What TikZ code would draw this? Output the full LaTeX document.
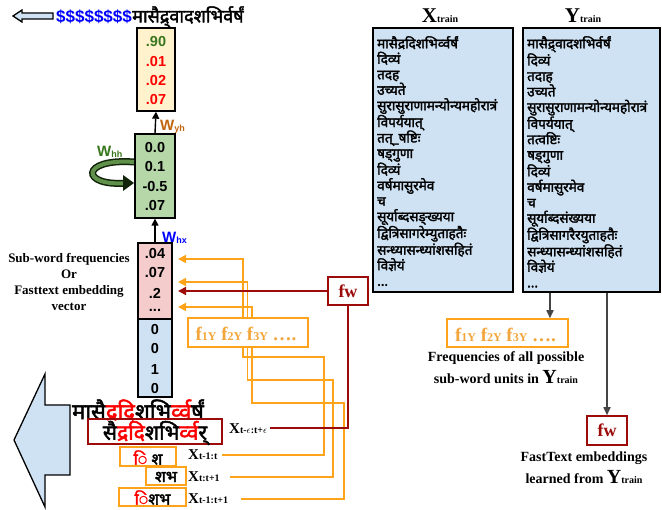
\documentclass[tikz,border=0pt]{standalone}
\usepackage{fontspec}
\setmainfont{Liberation Serif}
\setsansfont{Liberation Sans}
\newfontfamily\dev[Script=Devanagari,FakeBold=2.2]{Noto Sans}
\usetikzlibrary{arrows.meta}
\definecolor{orl}{HTML}{FFA31A}
\definecolor{ort}{HTML}{F2A53A}
\definecolor{dred}{HTML}{9C0A0A}
\definecolor{gry}{HTML}{454545}
\definecolor{lblue}{HTML}{CFE2F3}
\definecolor{lgreen}{HTML}{B6D7A8}
\definecolor{lyel}{HTML}{FFF2CC}
\definecolor{lpink}{HTML}{F4CCCC}
\definecolor{dgreen}{HTML}{38761D}
\definecolor{brn}{HTML}{C0650E}
\newcommand\sbs[1]{{\fontsize{9}{9}\selectfont #1}}
\newcommand\tsub[1]{{\fontsize{10}{10}\selectfont #1}}
\newcommand\fsub[1]{{\fontsize{12}{12}\selectfont #1}}
\begin{document}
\begin{tikzpicture}[x=1pt,y=-1pt,
  vec/.style={draw=black, line width=1.4pt, inner sep=0pt},
  num/.style={font=\sffamily\bfseries\fontsize{14.5}{14.5}\selectfont, inner sep=0pt},
  oline/.style={draw=orl, line width=1.6pt},
  oarr/.style={oline, -{Triangle[length=8pt,width=8pt]}},
  rline/.style={draw=dred, line width=1.6pt},
  rarr/.style={rline, -{Triangle[length=8pt,width=8pt]}},
  garr/.style={draw=gry, line width=1.6pt, -{Triangle[length=8pt,width=7pt]}},
  barr/.style={draw=black, line width=1.4pt, -{Triangle[length=7pt,width=7pt]}},
  obox/.style={draw=orl, line width=1.5pt, inner sep=0pt},
  rbox/.style={draw=dred, line width=1.5pt, inner sep=0pt},
  lbl/.style={font=\bfseries\fontsize{13}{16}\selectfont, align=center, inner sep=0pt},
  xl/.style={font=\bfseries\fontsize{15}{15}\selectfont, inner sep=0pt, anchor=west},
  dv/.style={font=\dev, inner sep=0pt},
  ftx/.style={font=\bfseries\fontsize{19}{19}\selectfont, text=ort, inner sep=0pt},
  wl/.style={font=\sffamily\bfseries\fontsize{15}{15}\selectfont, inner sep=0pt},
  listbox/.style={draw=black, line width=1.4pt, fill=lblue, inner sep=0pt},
  listtxt/.style={dv, font=\dev\fontsize{13.5}{15.5}\selectfont, align=left, anchor=north west}
]
\useasboundingbox (0,0) rectangle (662,510);

% top small arrow and output text
\draw[line width=1.3pt, fill=lblue] (13,16) -- (22,10) -- (22,13) -- (53,13) -- (53,19) -- (22,19) -- (22,22) -- cycle;
\node[font=\sffamily\bfseries\fontsize{17}{17}\selectfont, text=blue, inner sep=0pt, anchor=west] (dollars) at (56,17) {\$\$\$\$\$\$\$\$};
\node[dv, font=\dev\fontsize{18}{18}\selectfont, anchor=west] (outw) at (dollars.east) {मासैद्र्वादशभिर्वर्षं};

% output vector
\node[vec, fill=lyel, minimum width=38, minimum height=83] (out) at (156,69.5) {};
\node[num, text=dgreen] (o1) at (156,42) {.90};
\node[num, text=red] (o2) at (156,62) {.01};
\node[num, text=red] (o3) at (156,81) {.02};
\node[num, text=red] (o4) at (156,100) {.07};

% hidden vector
\node[vec, fill=lgreen, minimum width=40, minimum height=84] (hid) at (155,176) {};
\node[num] (h1) at (155,148) {0.0};
\node[num] (h2) at (155,167) {0.1};
\node[num] (h3) at (155,187) {-0.5};
\node[num] (h4) at (155,206) {.07};

\draw[barr] (hid.north) -- (out.south);
\node[wl, text=brn, anchor=west] (wyh) at (160,127) {W\raisebox{-1pt}{\sbs{yh}}};

% recurrent arrow
\coordinate (rs) at (134,162);
\coordinate (re) at (134,183);
\draw[draw=black!70!dgreen, line width=7pt] (rs) .. controls (80,158) and (80,187) .. ([xshift=-7pt]re);
\draw[draw=dgreen!80!white, line width=4pt] (rs) .. controls (80,158) and (80,187) .. ([xshift=-7pt]re);
\fill[black!70!dgreen] ([xshift=-11pt,yshift=-8pt]re) -- (re) -- ([xshift=-11pt,yshift=8pt]re) -- cycle;
\node[wl, text=dgreen, anchor=west] (whh) at (97,152) {W\raisebox{-1pt}{\sbs{hh}}};

% input vector
\node[vec, fill=lpink, minimum width=34, minimum height=76] (pink) at (155,281) {};
\node[vec, fill=lblue, minimum width=34, minimum height=78] (blu) at (155,358) {};
\node[num] (p1) at (155,254) {.04};
\node[num] (p2) at (155,273) {.07};
\node[num] (p3) at (155,293) {.2};
\node[num] (p4) at (155,310) {...};
\node[num] (b1) at (155,330) {0};
\node[num] (b2) at (155,349) {0};
\node[num] (b3) at (155,370) {1};
\node[num] (b4) at (155,389) {0};

\draw[barr] (pink.north) -- (hid.south);
\node[wl, text=blue, anchor=west] (whx) at (162,238) {W\raisebox{-1pt}{\sbs{hx}}};

\node[lbl] (desc) at (69,282) {Sub-word frequencies\\Or\\Fasttext embedding\\vector};

% left orange f box and fw box
\node[obox, minimum width=120, minimum height=29] (fbox) at (248,332.5) {};
\node[ftx] (ftxt) at (246,334) {f\fsub{1Y} f\fsub{2Y} f\fsub{3Y} ….};
\node[rbox, minimum width=40, minimum height=28, font=\bfseries\fontsize{18}{18}\selectfont, text=dred] (fw) at (348,291) {fw};

\coordinate (ta) at (178,259);
\coordinate (tb) at (178,282);
\coordinate (tc) at (178,307);
\coordinate (td) at (178,291);
\coordinate (fa) at (243,318);
\coordinate (fb) at (247.5,318);
\coordinate (fc) at (252,318);
\draw[oarr] (fa) |- (ta);
\draw[oarr] (fb) |- (tb);
\draw[oarr] (fc) |- (tc);
\draw[rarr] (fw.west) -- (td);

% bottom-left texts
\draw[line width=1.3pt, fill=lblue] (14,440) -- (45,374) -- (45,405) -- (70,405) -- (70,475) -- (45,475) -- (45,507) -- cycle;
\node[dv, font=\dev\fontsize{22}{22}\selectfont, anchor=west] (w1) at (72,410) {मासै\textcolor{red}{द्रदि}शभि\textcolor{red}{र्व्व}र्षं};
\node[rbox, minimum width=134, minimum height=25] (w2box) at (155,431.5) {};
\node[dv, font=\dev\fontsize{21}{21}\selectfont] (w2) at (155,433) {सै\textcolor{red}{द्रदि}शभि\textcolor{red}{र्व्व}र्};
\node[obox, minimum width=56, minimum height=19] (s1box) at (148,456.5) {};
\node[dv, font=\dev\fontsize{16}{16}\selectfont] (s1) at (148,457.5) {\textcolor{red}{ि} श};
\node[obox, minimum width=40, minimum height=18] (s2box) at (166,476) {};
\node[dv, font=\dev\fontsize{16}{16}\selectfont] (s2) at (166,477) {शभ};
\node[obox, minimum width=67, minimum height=18] (s3box) at (152.5,497) {};
\node[dv, font=\dev\fontsize{16}{16}\selectfont] (s3) at (152.5,497.5) {\textcolor{red}{ि}शभ};

\node[xl] (xe) at (229,429) {X\tsub{t-$\epsilon$:t+$\epsilon$}};
\node[xl] (x1) at (188,455) {X\tsub{t-1:t}};
\node[xl] (x2) at (188,477) {X\tsub{t:t+1}};
\node[xl] (x3) at (188,499) {X\tsub{t-1:t+1}};

% lower orange routes
\coordinate (ga) at (243,347);
\coordinate (gb) at (247.5,347);
\coordinate (gc) at (252,347);
\coordinate (ea) at (222,455);
\coordinate (eb) at (230,477);
\coordinate (ec) at (241,499);
\draw[oline] (ga) -- (243,357) -- (324,357) -- (324,455) -- (ea);
\draw[oline] (gb) -- (247.5,380) -- (333,380) -- (333,477) -- (eb);
\draw[oline] (gc) -- (252,403) -- (344,403) -- (344,499) -- (ec);
\coordinate (er) at (270,428);
\draw[rline] (fw.south) |- (er);

% right side
\node[font=\bfseries\fontsize{21}{21}\selectfont, inner sep=0pt] (xt) at (440,16) {X\tsub{train}};
\node[font=\bfseries\fontsize{21}{21}\selectfont, inner sep=0pt] (yt) at (583,16) {Y\tsub{train}};
\node[listbox, minimum width=140, minimum height=264] (xbox) at (443,160) {};
\node[listbox, minimum width=137, minimum height=264] (ybox) at (591.5,160) {};
\node[listtxt] (xlist) at (377,36) {मासैद्रदिशभिर्व्वर्षं\\दिव्यं\\तदह\\उच्यते\\सुरासुराणामन्योन्यमहोरात्रं\\विपर्ययात्\\तत्\_षष्टिः\\षड्गुणा\\दिव्यं\\वर्षमासुरमेव\\च\\सूर्याब्दसङ्ख्यया\\द्वित्रिसागरेम्युताहतैः\\सन्ध्यासन्ध्यांशसहितं\\विज्ञेयं\\...};
\node[listtxt] (ylist) at (527,36) {मासैद्र्वादशभिर्वर्षं\\दिव्यं\\तदाह\\उच्यते\\सुरासुराणामन्योन्यमहोरात्रं\\विपर्ययात्\\तत्वष्टिः\\षड्गुणा\\दिव्यं\\वर्षमासुरमेव\\च\\सूर्याब्दसंख्यया\\द्वित्रिसागरैरयुताहतैः\\सन्ध्यासन्ध्यांशसहितं\\विज्ञेयं\\...};

\node[obox, minimum width=121, minimum height=28] (rfbox) at (507.5,333) {};
\node[ftx] (rftxt) at (505.5,335) {f\fsub{1Y} f\fsub{2Y} f\fsub{3Y} ….};
\node[rbox, minimum width=40, minimum height=29, font=\bfseries\fontsize{18}{18}\selectfont, text=dred] (rfw) at (607,430.5) {fw};
\coordinate (g1) at (550,293);
\coordinate (g2) at (607,293);
\draw[garr] (g1) -- (g1 |- rfbox.north);
\draw[garr] (g2) -- (rfw.north);

\node[lbl, font=\bfseries\fontsize{14}{22}\selectfont] (freq) at (506,368) {Frequencies of all possible\\sub-word units in {\fontsize{20}{20}\selectfont Y}\tsub{train}};
\node[lbl, font=\bfseries\fontsize{14}{22}\selectfont] (ftx) at (584,468) {FastText embeddings\\learned from {\fontsize{20}{20}\selectfont Y}\tsub{train}};
\end{tikzpicture}
\end{document}
